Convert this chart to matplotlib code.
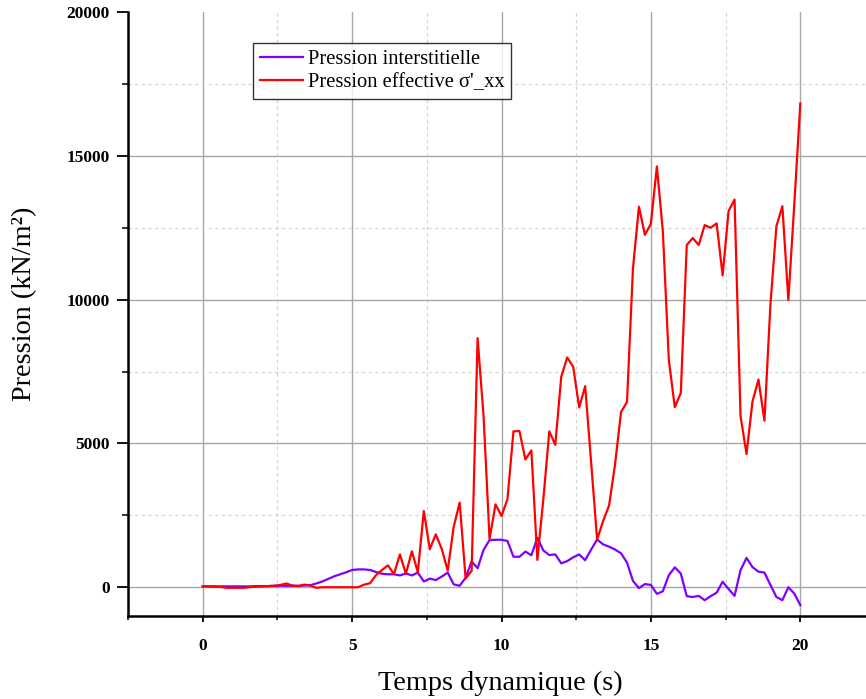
import numpy as np
import matplotlib
matplotlib.use("Agg")
import matplotlib.pyplot as plt
from matplotlib.ticker import MultipleLocator

# Time axis (s), sampled every 0.2 s
temps = np.round(np.arange(0, 20.0001, 0.2), 1)

# Pore pressure (kN/m²)
pression_interstitielle = [
    30, 30, 30, 30, 30, 30, 30, 30, 30, 40,
    40, 40, 50, 50, 50, 50, 50, 60, 70, 130,
    200, 290, 380, 450, 520, 600, 620, 620, 600, 530,
    470, 450, 450, 410, 480, 410, 510, 200, 300, 250,
    370, 510, 100, 50, 330, 900, 660, 1300, 1640, 1650,
    1650, 1610, 1060, 1060, 1240, 1110, 1720, 1280, 1120, 1140,
    830, 910, 1040, 1140, 940, 1310, 1660, 1490, 1410, 1310,
    1180, 860, 220, -30, 110, 80, -230, -140, 420, 690,
    480, -310, -340, -300, -450, -310, -190, 190, -60, -300,
    590, 1020, 700, 540, 510, 80, -340, -450, 0, -220,
    -620,
]

# Effective stress sigma'_xx (kN/m²)
pression_effective = [
    30, 30, 20, 10, -20, -20, -20, -20, 10, 20,
    30, 40, 50, 80, 130, 60, 40, 90, 60, -20,
    0, 0, 0, 0, 0, 0, 0, 90, 140, 420,
    600, 760, 460, 1140, 470, 1250, 520, 2650, 1320, 1840,
    1330, 580, 2100, 2940, 300, 570, 8660, 5950, 1680, 2880,
    2480, 3060, 5420, 5430, 4440, 4760, 950, 3060, 5420, 4950,
    7320, 7990, 7660, 6250, 6990, 4340, 1660, 2300, 2840, 4270,
    6090, 6440, 11090, 13230, 12250, 12640, 14630, 12370, 7900, 6260,
    6750, 11900, 12140, 11900, 12590, 12500, 12650, 10840, 13080, 13480,
    5950, 4630, 6460, 7220, 5790, 9830, 12550, 13250, 9990, 13330,
    16820,
]

x_ticks = [0, 5, 10, 15, 20]
y_ticks = [0, 5000, 10000, 15000, 20000]

serif = ["Liberation Serif", "DejaVu Serif"]
plt.rcParams["font.family"] = serif

W, H = 866, 699
fig = plt.figure(figsize=(W / 100, H / 100), dpi=100)
left, bottom, top = 128, 616, 12
ax_w = 747
ax_h = bottom - top
ax = fig.add_axes([left / W, (H - bottom) / H, ax_w / W, ax_h / H])

ax.plot(temps, pression_interstitielle, color="#8000ff", lw=1.6,
        label="Pression interstitielle", zorder=3)
ax.plot(temps, pression_effective, color="#ff0000", lw=1.6,
        label="Pression effective σ'_xx", zorder=4)

ax.set_xlim(-2.5, 22.5)
ax.set_ylim(-1000, 20000)
ax.set_xticks(x_ticks)
ax.set_yticks(y_ticks)
ax.xaxis.set_minor_locator(MultipleLocator(2.5))
ax.yaxis.set_minor_locator(MultipleLocator(2500))

ax.grid(which="major", color="#a8a8a8", lw=1.0, ls="-")
ax.grid(which="minor", color="#d2d2d2", lw=0.8, ls=(0, (3, 3)))
ax.set_axisbelow(True)
ax.yaxis.get_major_ticks()[-1].gridline.set_visible(False)

for s in ("top", "right"):
    ax.spines[s].set_visible(False)
for s in ("left", "bottom"):
    ax.spines[s].set_linewidth(1.8)
    ax.spines[s].set_color("black")

ax.tick_params(axis="y", which="major", direction="out", length=8, width=1.3, pad=5)
ax.tick_params(axis="y", which="minor", direction="out", length=4, width=1.1)
ax.tick_params(axis="x", which="major", direction="out", length=4, width=1.3, pad=12)
ax.tick_params(axis="x", which="minor", direction="out", length=3, width=1.1)

for lab in ax.get_xticklabels() + ax.get_yticklabels():
    lab.set_fontweight("bold")
    lab.set_fontsize(12.5)

ax.set_xlabel("Temps dynamique (s)", fontsize=20.3)
ax.set_ylabel("Pression (kN/m²)", fontsize=20.3)
ax.xaxis.set_label_coords((500 - left) / ax_w, -(683 - bottom) / ax_h)
ax.xaxis.label.set_va("center")
ax.yaxis.set_label_coords(-(left - 25) / ax_w, (bottom - 304) / ax_h)
ax.yaxis.label.set_va("center")

leg = ax.legend(loc="upper left", bbox_to_anchor=(253 / W, 1 - 43 / H),
                bbox_transform=fig.transFigure, borderaxespad=0,
                frameon=True, fancybox=False, edgecolor="black",
                fontsize=14.8, handlelength=2.1, handletextpad=0.25,
                borderpad=0.32, labelspacing=0.2)
leg.get_frame().set_linewidth(1.0)

fig.savefig("out.png", dpi=100)
